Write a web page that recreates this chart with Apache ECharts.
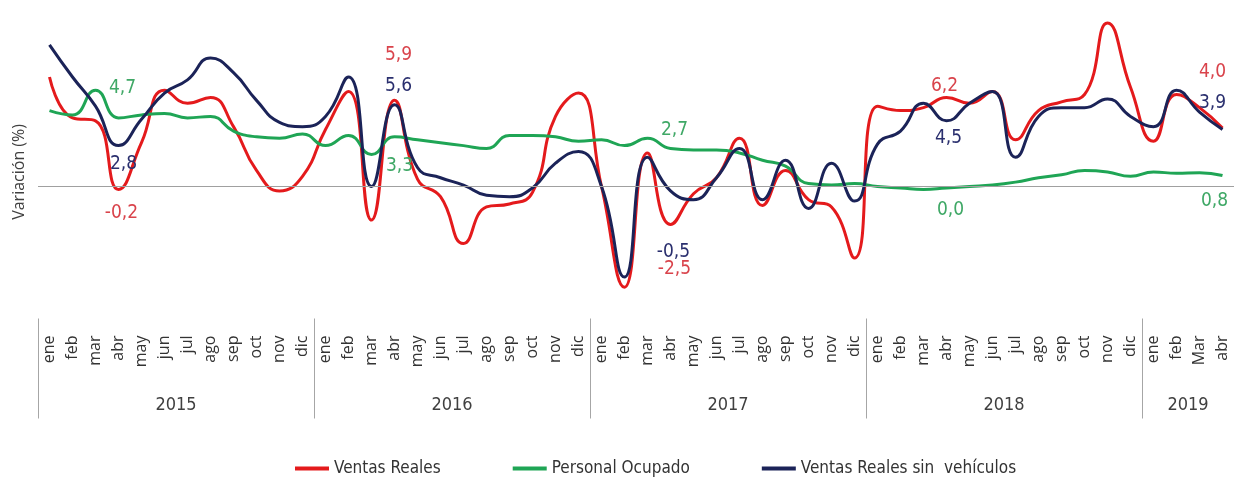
<!DOCTYPE html>
<html><head><meta charset="utf-8">
<script src="https://cdn.jsdelivr.net/npm/echarts@6/dist/echarts.min.js"></script>
<style>html,body{margin:0;padding:0;background:#fff}#c{width:1234px;height:480px}</style>
</head><body><div id="c"></div>
<script>
// ---- data ----
const months = ['ene','feb','mar','abr','may','jun','jul','ago','sep','oct','nov','dic',
  'ene','feb','mar','abr','may','jun','jul','ago','sep','oct','nov','dic',
  'ene','feb','mar','abr','may','jun','jul','ago','sep','oct','nov','dic',
  'ene','feb','mar','abr','may','jun','jul','ago','sep','oct','nov','dic',
  'ene','feb','Mar','abr'];
const years = ['2015','2016','2017','2018','2019'];
const monthsPerYear = [12,12,12,12,4];

const ventasReales = [7.5,4.7,4.5,-0.2,3.0,6.6,5.7,6.1,4.1,1.1,-0.3,0.7,
  3.9,6.5,-2.3,5.9,0.5,-0.7,-3.9,-1.4,-1.2,-0.4,4.8,6.4,
  0.0,-6.9,2.3,-2.6,-0.5,0.6,3.3,-1.3,1.1,-0.9,-1.4,-4.9,
  5.5,5.2,5.4,6.1,5.7,6.5,3.2,5.2,5.8,6.3,11.2,6.8,
  3.1,6.3,5.4,4.0];
const personalOcupado = [5.2,4.9,6.6,4.7,4.9,5.0,4.7,4.8,3.8,3.4,3.3,3.6,
  2.8,3.5,2.2,3.4,3.2,3.0,2.8,2.6,3.5,3.5,3.4,3.1,
  3.2,2.8,3.3,2.6,2.5,2.5,2.3,1.8,1.4,0.2,0.1,0.2,
  0.0,-0.1,-0.2,-0.1,0.0,0.1,0.3,0.6,0.8,1.1,1.0,0.7,
  1.0,0.9,0.95,0.75];
const ventasSinVehiculos = [9.7,7.5,5.5,2.8,4.6,6.4,7.3,8.8,7.8,5.9,4.4,4.1,
  4.8,7.5,0.0,5.6,1.3,0.6,0.1,-0.6,-0.7,-0.1,1.6,2.4,
  0.0,-6.2,2.0,-0.3,-0.9,0.6,2.6,-0.9,1.8,-1.5,1.6,-1.0,
  2.9,3.8,5.7,4.5,5.7,6.5,2.0,4.8,5.4,5.4,6.0,4.8,
  4.1,6.6,5.1,3.9];

const labelIndex = [3,15,27,39,51];
const ventasRealesLabels = ['-0,2','5,9','-2,5','6,2','4,0'];
const personalLabels = ['4,7','3,3','2,7','0,0','0,8'];
const sinVehiculosLabels = ['2,8','5,6','-0,5','4,5','3,9'];

// ---- styles ----
const NARROW = "'DejaVu Sans Condensed','Liberation Sans Narrow','Roboto Condensed','Open Sans Condensed',sans-serif";
const redOff = [[3,24],[4,-45],[4,45],[-2,-11],[-10,-56]];
const greenOff = [[4,-30],[5,29],[4,-18],[4,22],[-8,26]];
const blueOff = [[5,18],[4,-19],[3,61],[2,17],[-10,-26]];

function marks(values, texts, offs, color){
  return {
    symbol:'circle', symbolSize:0, silent:true,
    data: labelIndex.map((idx,k)=>({
      coord:[idx, values[idx]], name:texts[k], value:values[idx],
      label:{show:true, position:'inside', formatter:'{b}', offset:offs[k],
        color:color, fontSize:19, fontFamily:NARROW}
    }))
  };
}

// year axis (boundaries)
const yearStarts = [];
const yearMid = {};
let s = 0;
years.forEach((y,j)=>{ yearStarts.push(s); yearMid[s + monthsPerYear[j]/2] = y; s += monthsPerYear[j]; });
const boundaries = [];
for (let i=0;i<=s;i++) boundaries.push(String(i));

const chart = echarts.init(document.getElementById('c'), null, {renderer:'canvas'});
chart.setOption({
  animation:false,
  backgroundColor:'#ffffff',
  grid:{left:38, top:11.3, width:1201, height:321.2},
  legend:{
    left:290, top:455, icon:'rect', itemWidth:34, itemHeight:4, itemGap:72,
    textStyle:{fontSize:17, fontFamily:NARROW, color:'#333333'},
    data:['Ventas Reales','Personal Ocupado','Ventas Reales sin  vehículos']
  },
  xAxis:[{
    type:'category', data:months, boundaryGap:true,
    axisLine:{show:false}, axisTick:{show:false},
    axisLabel:{interval:0, rotate:90, margin:3, fontSize:16, fontFamily:"'Open Sans',sans-serif", color:'#333333'}
  },{
    type:'category', data:boundaries, boundaryGap:false, position:'bottom', offset:-14,
    axisLine:{show:false},
    axisTick:{show:true, length:100, interval:(i)=>yearStarts.includes(i), lineStyle:{color:'#a6a6a6', width:1}},
    axisLabel:{interval:(i)=>yearMid[i]!==undefined, formatter:(v,i)=>yearMid[i]||'', margin:78,
      fontSize:18, fontFamily:NARROW, color:'#404040'}
  }],
  yAxis:{
    type:'value', min:-10, max:12,
    axisLine:{show:false}, axisTick:{show:false}, axisLabel:{show:false}, splitLine:{show:false},
    name:'Variación (%)', nameLocation:'middle', nameGap:11, nameRotate:90,
    nameTextStyle:{fontSize:16, fontFamily:"'Open Sans',sans-serif", color:'#404040'}
  },
  series:[{
    name:'Ventas Reales', type:'line', data:ventasReales, smooth:0.5, showSymbol:false,
    lineStyle:{color:'#e41a1c', width:3}, itemStyle:{color:'#e41a1c'},
    markLine:{silent:true, symbol:['none','none'], label:{show:false},
      lineStyle:{color:'#a0a0a0', width:1, type:'solid'}, data:[{yAxis:0}]},
    markPoint:marks(ventasReales, ventasRealesLabels, redOff, '#d9434b')
  },{
    name:'Personal Ocupado', type:'line', data:personalOcupado, smooth:0.5, showSymbol:false,
    lineStyle:{color:'#1fa555', width:3}, itemStyle:{color:'#1fa555'},
    markPoint:marks(personalOcupado, personalLabels, greenOff, '#3fa866')
  },{
    name:'Ventas Reales sin  vehículos', type:'line', data:ventasSinVehiculos, smooth:0.5, showSymbol:false,
    lineStyle:{color:'#1b2358', width:3}, itemStyle:{color:'#1b2358'},
    markPoint:marks(ventasSinVehiculos, sinVehiculosLabels, blueOff, '#2a2f6e')
  }]
});
</script>
</body></html>
